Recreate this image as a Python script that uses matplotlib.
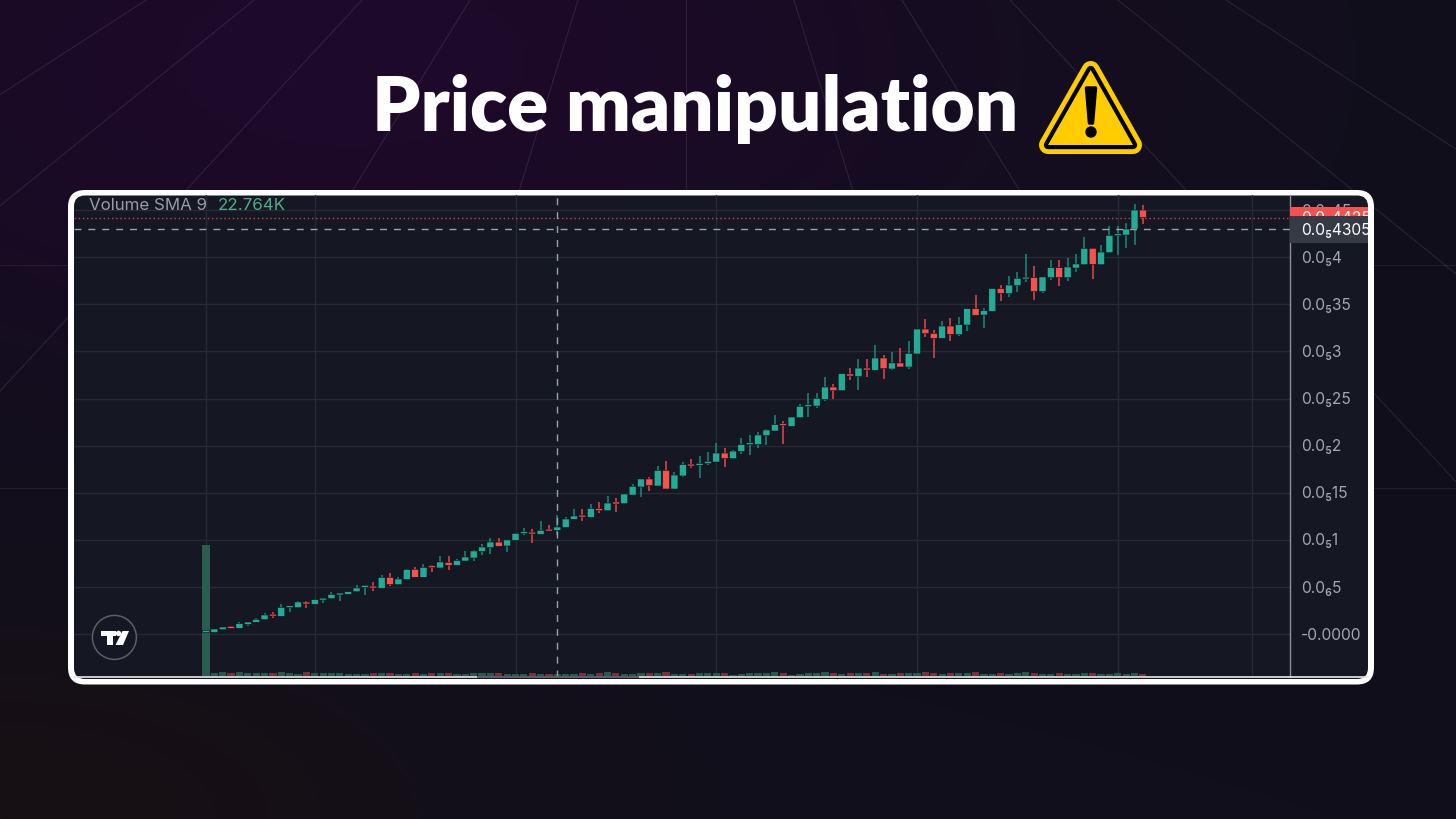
import numpy as np
import matplotlib
matplotlib.use("Agg")
import matplotlib.pyplot as plt
from matplotlib.patches import FancyBboxPatch, Polygon, Circle, Rectangle
from matplotlib.transforms import Bbox, blended_transform_factory

# prices in units of 1e-6
opens = [0.012, 0.012, 0.041, 0.069, 0.055, 0.098, 0.119, 0.147, 0.204, 0.183,
         0.275, 0.275, 0.335, 0.310, 0.356, 0.371, 0.410, 0.417, 0.445, 0.491,
         0.495, 0.481, 0.598, 0.520, 0.576, 0.683, 0.598, 0.711, 0.697, 0.757,
         0.725, 0.771, 0.803, 0.874, 0.913, 0.973, 0.931, 0.991, 1.062, 1.076,
         1.055, 1.101, 1.098, 1.129, 1.215, 1.250, 1.236, 1.328, 1.307, 1.399,
         1.381, 1.473, 1.559, 1.644, 1.569, 1.736, 1.537, 1.676, 1.800, 1.789,
         1.807, 1.824, 1.920, 1.860, 1.938, 2.009, 2.012, 2.105, 2.154, 2.222,
         2.204, 2.296, 2.413, 2.420, 2.491, 2.622, 2.583, 2.761, 2.732, 2.824,
         2.800, 2.931, 2.814, 2.878, 2.835, 2.974, 3.239, 3.193, 3.140, 3.271,
         3.179, 3.282, 3.456, 3.388, 3.427, 3.669, 3.615, 3.700, 3.771, 3.786,
         3.637, 3.786, 3.892, 3.786, 3.888, 3.924, 4.098, 3.924, 4.051, 4.232,
         4.239, 4.303, 4.505]
closes = [0.020, 0.048, 0.069, 0.055, 0.105, 0.122, 0.151, 0.197, 0.186, 0.278,
          0.285, 0.335, 0.314, 0.360, 0.374, 0.417, 0.420, 0.445, 0.484, 0.502,
          0.484, 0.598, 0.520, 0.580, 0.679, 0.598, 0.704, 0.700, 0.761, 0.725,
          0.778, 0.814, 0.878, 0.920, 0.973, 0.927, 0.995, 1.066, 1.076, 1.058,
          1.098, 1.090, 1.133, 1.218, 1.250, 1.239, 1.328, 1.307, 1.388, 1.378,
          1.484, 1.566, 1.644, 1.573, 1.736, 1.537, 1.686, 1.796, 1.782, 1.810,
          1.832, 1.920, 1.860, 1.941, 2.009, 2.023, 2.112, 2.165, 2.222, 2.211,
          2.303, 2.417, 2.431, 2.502, 2.622, 2.583, 2.764, 2.739, 2.824, 2.803,
          2.931, 2.817, 2.878, 2.835, 2.981, 3.239, 3.190, 3.140, 3.271, 3.183,
          3.286, 3.456, 3.385, 3.434, 3.669, 3.619, 3.707, 3.778, 3.789, 3.637,
          3.793, 3.892, 3.786, 3.899, 3.931, 4.098, 3.927, 4.058, 4.236, 4.250,
          4.303, 4.505, 4.425]
highs = [0.020, 0.048, 0.069, 0.083, 0.122, 0.122, 0.168, 0.215, 0.225, 0.310,
         0.285, 0.346, 0.346, 0.367, 0.374, 0.438, 0.420, 0.445, 0.512, 0.512,
         0.548, 0.622, 0.640, 0.598, 0.690, 0.707, 0.743, 0.732, 0.821, 0.821,
         0.793, 0.878, 0.888, 0.949, 1.016, 1.016, 0.995, 1.066, 1.126, 1.115,
         1.193, 1.151, 1.261, 1.243, 1.328, 1.328, 1.378, 1.395, 1.466, 1.438,
         1.484, 1.594, 1.644, 1.665, 1.782, 1.832, 1.715, 1.824, 1.856, 1.888,
         1.927, 2.030, 1.973, 1.956, 2.080, 2.108, 2.140, 2.179, 2.324, 2.257,
         2.303, 2.438, 2.559, 2.559, 2.729, 2.651, 2.764, 2.824, 2.917, 2.917,
         3.069, 2.966, 2.991, 3.034, 3.112, 3.239, 3.349, 3.229, 3.324, 3.353,
         3.367, 3.456, 3.601, 3.466, 3.669, 3.711, 3.807, 3.842, 4.034, 3.910,
         3.793, 3.973, 3.973, 3.998, 4.037, 4.218, 4.098, 4.133, 4.335, 4.335,
         4.364, 4.573, 4.559]
lows = [0.012, 0.012, 0.041, 0.055, 0.055, 0.080, 0.119, 0.147, 0.165, 0.183,
        0.232, 0.275, 0.275, 0.310, 0.328, 0.371, 0.349, 0.417, 0.445, 0.413,
        0.456, 0.481, 0.505, 0.520, 0.576, 0.598, 0.598, 0.654, 0.697, 0.676,
        0.725, 0.771, 0.771, 0.839, 0.849, 0.927, 0.871, 0.991, 1.048, 0.966,
        1.055, 1.090, 1.048, 1.129, 1.215, 1.197, 1.236, 1.278, 1.307, 1.293,
        1.381, 1.473, 1.452, 1.516, 1.569, 1.537, 1.537, 1.665, 1.761, 1.654,
        1.789, 1.824, 1.768, 1.860, 1.910, 1.899, 1.973, 2.005, 2.154, 2.020,
        2.204, 2.296, 2.300, 2.399, 2.473, 2.491, 2.583, 2.697, 2.594, 2.725,
        2.800, 2.707, 2.800, 2.835, 2.814, 2.974, 3.151, 2.935, 3.140, 3.112,
        3.165, 3.222, 3.385, 3.250, 3.427, 3.534, 3.580, 3.637, 3.743, 3.548,
        3.622, 3.764, 3.693, 3.750, 3.846, 3.924, 3.771, 3.924, 4.051, 4.030,
        4.105, 4.137, 4.356]
# volume in thousands
volumes = [655, 12, 17, 15, 17, 13, 13, 13, 13, 18,
           15, 10, 17, 12, 13, 13, 13, 7, 10, 10,
           13, 15, 13, 10, 10, 15, 10, 12, 15, 13,
           7, 10, 15, 15, 15, 12, 10, 7, 10, 15,
           10, 7, 8, 7, 10, 13, 10, 13, 18, 13,
           7, 8, 13, 13, 13, 17, 10, 10, 10, 13,
           13, 13, 13, 5, 10, 13, 13, 13, 17, 13,
           5, 8, 13, 13, 17, 13, 7, 13, 13, 13,
           17, 10, 10, 13, 13, 13, 17, 13, 10, 13,
           13, 13, 17, 10, 10, 13, 10, 13, 17, 13,
           7, 8, 13, 10, 8, 13, 13, 7, 8, 15,
           10, 13, 10]

grid_times = [0, 13, 37, 61, 85, 109, 125]
price_ticks = [0, 0.5, 1, 1.5, 2, 2.5, 3, 3.5, 4, 4.5]
price_labels = ["-0.0000", "0.0₆5", "0.0₅1", "0.0₅15", "0.0₅2", "0.0₅25",
                "0.0₅3", "0.0₅35", "0.0₅4", "0.0₅45"]
last_price = 4.425
cross_price = 4.305
cross_time = 42

GREEN = "#24ab96"
RED = "#f4514f"
PANEL = "#151723"
GRID = "#262a36"
LABEL_FONT = ["Inter", "DejaVu Sans"]

fig = plt.figure(figsize=(14.56, 8.19), dpi=100)

# background, in pixel coordinates
bg = fig.add_axes([0, 0, 1, 1])
bg.set_xlim(0, 1456)
bg.set_ylim(819, 0)
bg.axis("off")

xx, yy = np.meshgrid(np.linspace(0, 1456, 364), np.linspace(0, 819, 205))
base = np.array([17, 15, 28], dtype=float)
purple = np.array([30, 9, 42], dtype=float)
rust = np.array([23, 16, 20], dtype=float)
w1 = np.exp(-(((xx - 350) / 620) ** 2 + ((yy - 60) / 300) ** 2))[..., None]
w2 = np.exp(-((xx / 500) ** 2 + ((yy - 819) / 220) ** 2))[..., None]
img = base * (1 - w1) + purple * w1
img = img * (1 - w2) + rust * w2
bg.imshow(img / 255, extent=[0, 1456, 819, 0], aspect="auto", zorder=0)

for k in range(-5, 6):
    x_end = 686 + 108 * k * (488 + 350) / 350
    x_start = 686 + 108 * k
    bg.plot([x_start, x_end], [0, 488], color="white", alpha=0.09, lw=0.8, zorder=1)
for y in [265, 488]:
    bg.plot([0, 1456], [y, y], color="white", alpha=0.07, lw=0.8, zorder=1)
bg.set_xlim(0, 1456)
bg.set_ylim(819, 0)

bg.text(695, 131, "Price manipulation", color="white", fontsize=55, fontweight="heavy",
        family="Lato", ha="center", va="baseline", zorder=3)

# warning sign
tri = [(1090.7, 70), (1048, 145), (1133, 145)]
bg.add_patch(Polygon(tri, closed=True, fc="#ffcc00", ec="#ffcc00", lw=13, joinstyle="round", zorder=3))
bg.add_patch(Polygon(tri, closed=True, fc="#ffcc00", ec="black", lw=6, joinstyle="round", zorder=4))
bg.add_patch(Polygon(tri, closed=True, fc="#ffcc00", ec="none", zorder=5))
bg.add_patch(Polygon([(1086.5, 88), (1095.5, 88), (1092.5, 123), (1089.5, 123)], closed=True,
                     fc="black", ec="black", lw=2.5, joinstyle="round", zorder=6))
bg.add_patch(Circle((1091, 132), 5.7, fc="black", ec="none", zorder=6))

# chart frame
outer = FancyBboxPatch((68, 190), 1306, 494.5, boxstyle="round,pad=0,rounding_size=17",
                       fc="white", ec="none", zorder=2)
inner = FancyBboxPatch((74, 195.5), 1294, 483.5, boxstyle="round,pad=0,rounding_size=11",
                       fc=PANEL, ec="none", zorder=2.1)
bg.add_patch(outer)
bg.add_patch(inner)

# x: bar index, y: price, scaled so the bars land on the picture's grid
ax = fig.add_axes([74 / 1456, 1 - 676.5 / 819, (1290 - 74) / 1456, (676.5 - 195.5) / 819])
ax.patch.set_alpha(0)
ax.set_xlim((74 - 206) / 8.365, (1290 - 206) / 8.365)
ax.set_ylim((633.5 - 676.5) / 94, (633.5 - 195.5) / 94)

# volume overlay
vol = ax.twinx()
vol.set_ylim(-5, 2400)
vol.set_yticks([])
vol.tick_params(length=0)

# candles on top of the volume
price = ax.twinx()
price.set_ylim(ax.get_ylim())
price.set_yticks([])
price.tick_params(length=0)

for a in [vol, price]:
    for side in a.spines:
        a.spines[side].set_visible(False)

ax.set_xticks(grid_times)
ax.yaxis.tick_right()
ax.set_yticks(price_ticks)
ax.set_yticklabels(price_labels, family=LABEL_FONT)
ax.tick_params(axis="x", length=0, labelbottom=False)
ax.tick_params(axis="y", length=0, labelsize=11.2, labelcolor="#a3a6ae", pad=7.9)
ax.grid(True, color=GRID, lw=1)
ax.set_axisbelow(True)
for side in ["top", "left", "bottom"]:
    ax.spines[side].set_visible(False)
ax.spines["right"].set_color("#8c9099")
ax.spines["right"].set_linewidth(1)

t = np.arange(len(opens))
o = np.array(opens)
c = np.array(closes)
up = c >= o
vol_colors = ["#28594f" if u else "#76303e" for u in up]
vol_colors[0] = "#2a5c50"
vol.bar(t, volumes, width=0.86, color=vol_colors, edgecolor="none", zorder=1)

colors = [GREEN if u else RED for u in up]
wick_colors = ["#1c8a79" if u else "#e34a4a" for u in up]
price.vlines(t, lows, highs, colors=wick_colors, lw=1.1, zorder=3)
price.bar(t, np.maximum(np.abs(c - o), 0.02), bottom=np.minimum(o, c), width=0.84, color=colors,
          edgecolor="#0c0e15", linewidth=0.4, snap=False, zorder=4)

price.axhline(last_price, color=RED, lw=1, ls=(0, (1, 2)), alpha=0.8, zorder=2)
price.axhline(cross_price, color="#9aa3ad", lw=1, ls=(0, (5, 5)), zorder=5)
price.axvline(cross_time, color="#9aa3ad", lw=1, ls=(0, (5, 5)), zorder=5)

# price labels on the right scale
tr = blended_transform_factory(bg.transData, price.transData)
clip = Bbox([[74, 819 - 679], [1368, 819 - 195.5]])
price.add_patch(Rectangle((1290, 4.441), 78, 0.099, transform=tr, fc=RED, ec="none",
                          clip_on=False, zorder=6))
red_text = price.text(1301, last_price - 0.015, "0.0₅4425", transform=tr, color="white", fontsize=11.2,
                      family=LABEL_FONT, ha="left", va="center", zorder=7)
price.add_patch(Rectangle((1290, 4.154), 78, 0.287, transform=tr, fc="#363a45", ec="none",
                          clip_on=False, zorder=8))
grey_text = price.text(1301, cross_price - 0.015, "0.0₅4305", transform=tr, color="white", fontsize=11.2,
                       family=LABEL_FONT, ha="left", va="center", zorder=9)
for txt in [red_text, grey_text]:
    txt.set_clip_path(None)
    txt.set_clip_box(clip)
    txt.set_clip_on(True)

# top layer: legend text, bottom axis line, badge
top = fig.add_axes([0, 0, 1, 1])
top.set_xlim(0, 1456)
top.set_ylim(819, 0)
top.axis("off")
top.text(89, 205, "Volume SMA 9", color="#9a9da6", fontsize=12.2, family=LABEL_FONT, ha="left", va="center")
top.text(218, 205, "22.764K", color="#4caf8a", fontsize=12.2, family=LABEL_FONT, ha="left", va="center")

top.plot([74, 1368], [676.9, 676.9], color="#e8e8ea", lw=1.2)
top.add_patch(Rectangle((477, 675.8), 162, 2.4, fc="#5a5e68", ec="none", zorder=3.1))

top.add_patch(Circle((114.4, 637.4), 22, fc=PANEL, ec="#5c5f68", lw=1.1))
top.add_patch(Polygon([(100.7, 630.7), (116, 630.7), (116, 636), (113.3, 636), (113.3, 645),
                       (106.7, 645), (106.7, 636), (100.7, 636)], closed=True, fc="white", ec="none"))
top.add_patch(Circle((118.5, 633.4), 2.7, fc="white", ec="none"))
top.add_patch(Polygon([(129, 631), (122.5, 631), (115.5, 645), (123, 645)], closed=True, fc="white", ec="none"))

fig.savefig("out.png", dpi=100)
